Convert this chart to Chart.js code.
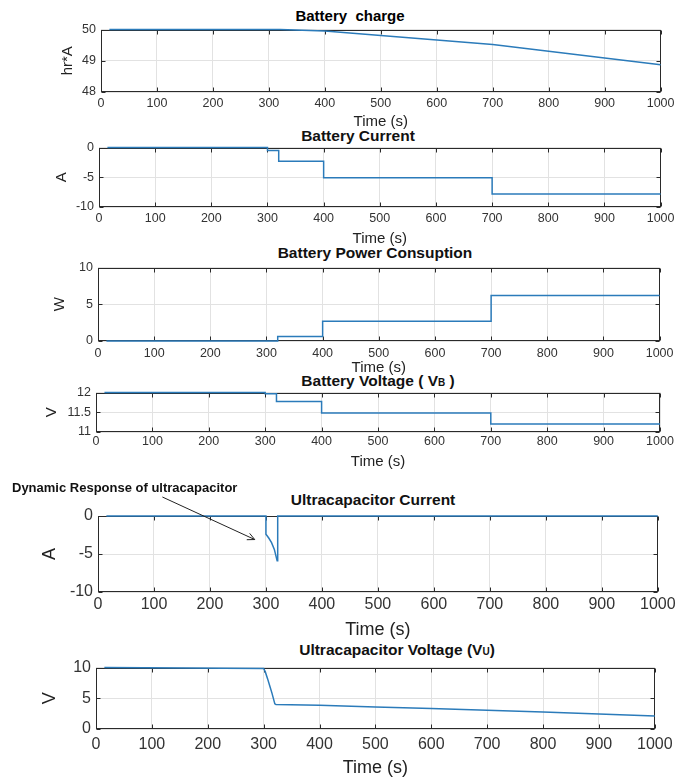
<!DOCTYPE html>
<html>
<head>
<meta charset="utf-8">
<script src="https://cdn.jsdelivr.net/npm/chart.js@4.4.1/dist/chart.umd.min.js"></script>
<style>
body { margin: 0; background: #fff; width: 679px; height: 778px; position: relative; overflow: hidden; font-family: 'Liberation Sans', Arial, sans-serif; }
canvas { position: absolute; left: 0; }
.ttl { position: absolute; font-weight: bold; font-size: 15.5px; color: #111; white-space: nowrap; transform: translate(-50%, -50%); }
.ttl small { font-size: 10px; }
</style>
</head>
<body>

<div class="ttl" style="left:350px;top:15px;font-size:15px;color:#000">Battery&nbsp; charge</div>
<div class="ttl" style="left:358px;top:136px">Battery Current</div>
<div class="ttl" style="left:375px;top:253px">Battery Power Consuption</div>
<div class="ttl" style="left:378px;top:381px">Battery Voltage ( V<small>B</small> )</div>
<div class="ttl" style="left:373px;top:500px">Ultracapacitor Current</div>
<div class="ttl" style="left:397px;top:650px">Ultracapacitor Voltage (V<small>U</small>)</div>

<canvas id="p1"></canvas>
<canvas id="p2"></canvas>
<canvas id="p3"></canvas>
<canvas id="p4"></canvas>
<canvas id="p5"></canvas>
<canvas id="p6"></canvas>

<script>
// time axis ticks (s)
const timeTicks = [0, 100, 200, 300, 400, 500, 600, 700, 800, 900, 1000];

// Battery charge (hr*A)
const chargeTime = [15, 320, 400, 700, 1000];
const chargeVal = [50, 50, 49.95, 49.52, 48.87];
const chargeTicks = [48, 49, 50];

// Battery current (A)
const batCurTime = [15, 300, 320, 400, 700, 1000];
const batCurVal = [0, -0.5, -2.3, -5.1, -7.8, -7.8];
const batCurTicks = [-10, -5, 0];

// Battery power (W)
const powerTime = [15, 320, 400, 700, 1000];
const powerVal = [0, 0.6, 2.7, 6.2, 6.2];
const powerTicks = [0, 5, 10];

// Battery voltage (V)
const batVoltTime = [15, 300, 320, 400, 700, 1000];
const batVoltVal = [12, 11.97, 11.77, 11.48, 11.2, 11.2];
const batVoltTicks = [11, 11.5, 12];

// Ultracapacitor current (A)
const ucCurTime = [15, 300, 300, 305, 310, 315, 320, 321, 1000];
const ucCurVal = [0, 0, -2.4, -2.9, -3.5, -4.4, -5.9, 0, 0];
const ucCurTicks = [-10, -5, 0];

// Ultracapacitor voltage (V)
const ucVoltTime = [15, 300, 303, 307, 311, 315, 320, 322, 400, 500, 600, 700, 800, 900, 1000];
const ucVoltVal = [10, 9.85, 9.3, 8.2, 7.0, 5.8, 4.1, 4.0, 3.85, 3.6, 3.35, 3.05, 2.75, 2.45, 2.1];
const ucVoltTicks = [0, 5, 10];

const FONT = "'Liberation Sans', Arial, sans-serif";
const LINE = '#2b7bba';

// frame + inward tick marks like matlab axes
const boxPlugin = {
  id: 'box',
  beforeDatasetsDraw(chart) {
    const { ctx, chartArea: a, scales: { x, y } } = chart;
    const l = Math.round(a.left) + 0.5, r = Math.round(a.right) - 0.5;
    const t = Math.round(a.top) + 0.5, b = Math.round(a.bottom) - 0.5;
    ctx.save();
    ctx.strokeStyle = '#2a2a2a';
    ctx.lineWidth = 1;
    ctx.strokeRect(l, t, r - l, b - t);
    ctx.beginPath();
    x.ticks.forEach(tk => {
      const px = Math.round(x.getPixelForValue(tk.value)) + 0.5;
      ctx.moveTo(px, b); ctx.lineTo(px, b - 4);
      ctx.moveTo(px, t); ctx.lineTo(px, t + 4);
    });
    y.ticks.forEach(tk => {
      const py = Math.round(y.getPixelForValue(tk.value)) + 0.5;
      ctx.moveTo(l, py); ctx.lineTo(l + 4, py);
      ctx.moveTo(r, py); ctx.lineTo(r - 4, py);
    });
    ctx.stroke();
    ctx.restore();
  }
};

// "Dynamic Response of ultracapacitor" note with arrow
const notePlugin = {
  id: 'note',
  afterDraw(chart) {
    if (!chart.options.plugins.note) return;
    const { ctx, chartArea: a, scales: { x, y } } = chart;
    ctx.save();
    ctx.font = 'bold 13px ' + FONT;
    ctx.fillStyle = '#111';
    ctx.textBaseline = 'middle';
    ctx.fillText('Dynamic Response of ultracapacitor', 12, a.top - 28);
    const x0 = x.getPixelForValue(115), y0 = a.top - 19;
    const x1 = x.getPixelForValue(280), y1 = y.getPixelForValue(-3.1);
    const ang = Math.atan2(y1 - y0, x1 - x0);
    ctx.strokeStyle = '#222';
    ctx.lineWidth = 1;
    ctx.beginPath();
    ctx.moveTo(x0, y0); ctx.lineTo(x1, y1);
    ctx.moveTo(x1 - 8 * Math.cos(ang - 0.45), y1 - 8 * Math.sin(ang - 0.45));
    ctx.lineTo(x1, y1);
    ctx.lineTo(x1 - 8 * Math.cos(ang + 0.45), y1 - 8 * Math.sin(ang + 0.45));
    ctx.stroke();
    ctx.restore();
  }
};

function makePanel(p) {
  const el = document.getElementById(p.id);
  const xh = p.timeY + 11 - p.bottom;
  const h = p.padTop + (p.bottom - p.top) + xh;
  el.width = 679;
  el.height = h;
  el.style.top = (p.top - p.padTop) + 'px';
  const tlh = p.titleFont * 1.2;
  const ylh = p.yTitleFont * 1.2;

  new Chart(el, {
    type: 'line',
    data: {
      datasets: [{
        data: p.time.map((t, i) => ({ x: t, y: p.values[i] })),
        borderColor: LINE,
        borderWidth: 1.5,
        pointRadius: 0,
        stepped: p.stepped || false,
        clip: 4
      }]
    },
    options: {
      responsive: false,
      animation: false,
      layout: { padding: { top: p.padTop, right: 679 - p.right, left: 0, bottom: 0 } },
      plugins: { legend: { display: false }, tooltip: { enabled: false }, note: p.note || false },
      scales: {
        x: {
          type: 'linear',
          min: 0, max: 1000,
          afterBuildTicks: s => { s.ticks = timeTicks.map(v => ({ value: v })); },
          afterFit: s => { s.height = xh; },
          grid: { color: '#e2e2e2', drawTicks: false },
          border: { display: false },
          ticks: {
            autoSkip: false, maxRotation: 0,
            callback: v => String(v),
            padding: p.tickY - p.bottom - 0.6 * p.tickFont,
            color: '#333', font: { family: FONT, size: p.tickFont }
          },
          title: {
            display: true, text: 'Time (s)', color: '#222',
            font: { family: FONT, size: p.titleFont },
            padding: { top: 0, bottom: 11 - tlh / 2 }
          }
        },
        y: {
          min: p.yTicks[0], max: p.yTicks[p.yTicks.length - 1],
          afterBuildTicks: s => { s.ticks = p.yTicks.map(v => ({ value: v })); },
          afterFit: s => { s.width = p.left; },
          grid: { color: '#e2e2e2', drawTicks: false },
          border: { display: false },
          ticks: {
            padding: 5, callback: v => String(v),
            color: '#333', font: { family: FONT, size: p.tickFont }
          },
          title: {
            display: true, text: p.yTitle, color: '#222',
            font: { family: FONT, size: p.yTitleFont },
            padding: { top: p.yTitleX - ylh / 2, bottom: 0 }
          }
        }
      }
    },
    plugins: [boxPlugin, notePlugin]
  });
}

const panels = [
  { id: 'p1', time: chargeTime, values: chargeVal, yTicks: chargeTicks, yTitle: 'hr*A',
    top: 27, bottom: 92, left: 101, right: 668, padTop: 10, tickY: 104, timeY: 122,
    yTitleX: 68, tickFont: 12.5, titleFont: 15, yTitleFont: 15 },
  { id: 'p2', time: batCurTime, values: batCurVal, yTicks: batCurTicks, yTitle: 'A', stepped: 'before',
    top: 145, bottom: 207, left: 99, right: 663, padTop: 10, tickY: 219, timeY: 239,
    yTitleX: 62, tickFont: 12.5, titleFont: 15, yTitleFont: 15 },
  { id: 'p3', time: powerTime, values: powerVal, yTicks: powerTicks, yTitle: 'W', stepped: 'before',
    top: 265, bottom: 341, left: 98, right: 662, padTop: 10, tickY: 354, timeY: 368,
    yTitleX: 60, tickFont: 12.5, titleFont: 15, yTitleFont: 15 },
  { id: 'p4', time: batVoltTime, values: batVoltVal, yTicks: batVoltTicks, yTitle: 'V', stepped: 'before',
    top: 390, bottom: 432, left: 96, right: 660, padTop: 10, tickY: 442, timeY: 462,
    yTitleX: 52, tickFont: 12.5, titleFont: 15, yTitleFont: 15 },
  { id: 'p5', time: ucCurTime, values: ucCurVal, yTicks: ucCurTicks, yTitle: 'A', note: true,
    top: 516, bottom: 592, left: 98, right: 663, padTop: 36, tickY: 605, timeY: 630,
    yTitleX: 50, tickFont: 16, titleFont: 18, yTitleFont: 18 },
  { id: 'p6', time: ucVoltTime, values: ucVoltVal, yTicks: ucVoltTicks, yTitle: 'V',
    top: 663, bottom: 729, left: 96, right: 665, padTop: 10, tickY: 745, timeY: 768,
    yTitleX: 50, tickFont: 16, titleFont: 18, yTitleFont: 18 }
];

panels.forEach(makePanel);
</script>
</body>
</html>
